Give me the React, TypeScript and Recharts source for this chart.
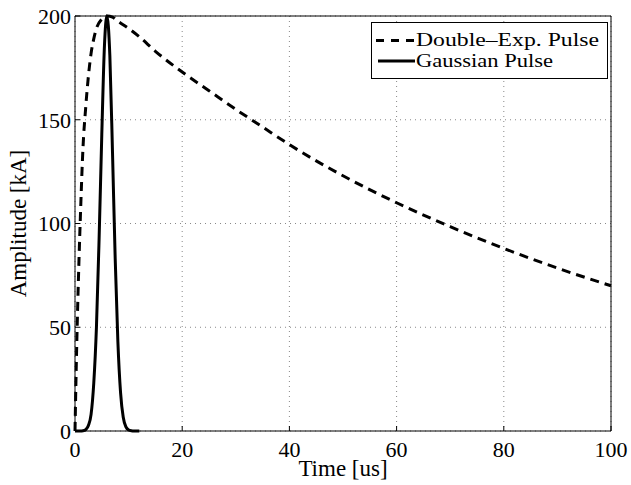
import { LineChart, Line, XAxis, YAxis, CartesianGrid } from 'recharts'

const FONT = '"Liberation Serif", "Times New Roman", serif'

const X_TICKS = [0, 20, 40, 60, 80, 100]
const Y_TICKS = [0, 50, 100, 150, 200]
const SERIES_NAMES = ['Double\u2013Exp. Pulse', 'Gaussian Pulse']

// double exponential pulse (time in us, amplitude in kA)
const dblTime = [0, 0.25, 0.5, 0.75, 1, 1.5, 2, 2.5, 3, 3.5, 4, 5, 6, 7, 8, 10, 12, 15, 20, 25, 30, 35, 40, 50, 60, 70, 80, 90, 100]
const dblAmp = [0, 33, 60, 83, 103, 137, 156, 171, 182, 189, 194, 198.5, 200, 199.5, 197.5, 194, 190, 183, 173, 164, 155, 146.5, 138, 123, 110, 98.5, 88, 78.5, 70]

// gaussian pulse
const gTime = [0, 1, 1.5, 2, 2.5, 3, 3.5, 4, 4.5, 5, 5.5, 5.95, 6.5, 7, 7.5, 8, 8.5, 9, 9.5, 10, 10.5, 11, 12]
const gAmp = [0, 0, 0.1, 0.7, 2.6, 8, 23, 50, 93, 143, 186, 200, 181, 134, 83, 43, 18.5, 6.6, 2, 0.5, 0.1, 0, 0]

const dblData = dblTime.map((t, i) => ({ t, v: dblAmp[i] }))
const gData = gTime.map((t, i) => ({ t, v: gAmp[i] }))

const tickStyle = { fill: '#000', fontSize: 22, fontFamily: FONT }

export default function App() {
  return (
    <div style={{ position: 'absolute', left: 0, top: 0, width: 631, height: 485, background: '#fff' }}>
      <LineChart width={631} height={485} margin={{ top: 16, right: 20, bottom: 0, left: 0 }}>
        <CartesianGrid stroke="#888" strokeDasharray="1 4" />
        <XAxis
          type="number"
          dataKey="t"
          domain={[0, 100]}
          ticks={X_TICKS}
          height={54}
          tickSize={-5}
          tickMargin={15}
          stroke="#000"
          tick={tickStyle}
          label={{ value: 'Time [us]', position: 'insideBottom', offset: 9, fill: '#000', fontSize: 23, fontFamily: FONT }}
        />
        <YAxis
          type="number"
          domain={[0, 200]}
          ticks={Y_TICKS}
          width={75}
          tickSize={-5}
          tickMargin={9}
          stroke="#000"
          tick={tickStyle}
          label={{ value: 'Amplitude [kA]', angle: -90, position: 'center', dx: -20, fill: '#000', fontSize: 23, fontFamily: FONT }}
        />
        <XAxis xAxisId="top" orientation="top" mirror type="number" domain={[0, 100]} ticks={X_TICKS} tick={false} tickSize={5} stroke="#000" />
        <YAxis yAxisId="right" orientation="right" mirror type="number" domain={[0, 200]} ticks={Y_TICKS} tick={false} tickSize={5} stroke="#000" />
        <Line data={dblData} dataKey="v" name={SERIES_NAMES[0]} type="monotone" stroke="#000" strokeWidth={3} strokeDasharray="9 6" dot={false} isAnimationActive={false} />
        <Line data={gData} dataKey="v" name={SERIES_NAMES[1]} type="monotone" stroke="#000" strokeWidth={3} dot={false} isAnimationActive={false} />
      </LineChart>

      <svg style={{ position: 'absolute', left: 371, top: 22 }} width={237} height={57}>
        <rect x={0.5} y={0.5} width={236} height={56} fill="#fff" stroke="#000" />
        <line x1={5} x2={43} y1={18.5} y2={18.5} stroke="#000" strokeWidth={3} strokeDasharray="8 7" />
        <text x={45} y={24} fontSize={19} fontFamily={FONT} fill="#000" textLength={183} lengthAdjust="spacingAndGlyphs">{SERIES_NAMES[0]}</text>
        <line x1={7} x2={44} y1={39} y2={39} stroke="#000" strokeWidth={3} />
        <text x={45} y={45} fontSize={19} fontFamily={FONT} fill="#000" textLength={137} lengthAdjust="spacingAndGlyphs">{SERIES_NAMES[1]}</text>
      </svg>
    </div>
  )
}
